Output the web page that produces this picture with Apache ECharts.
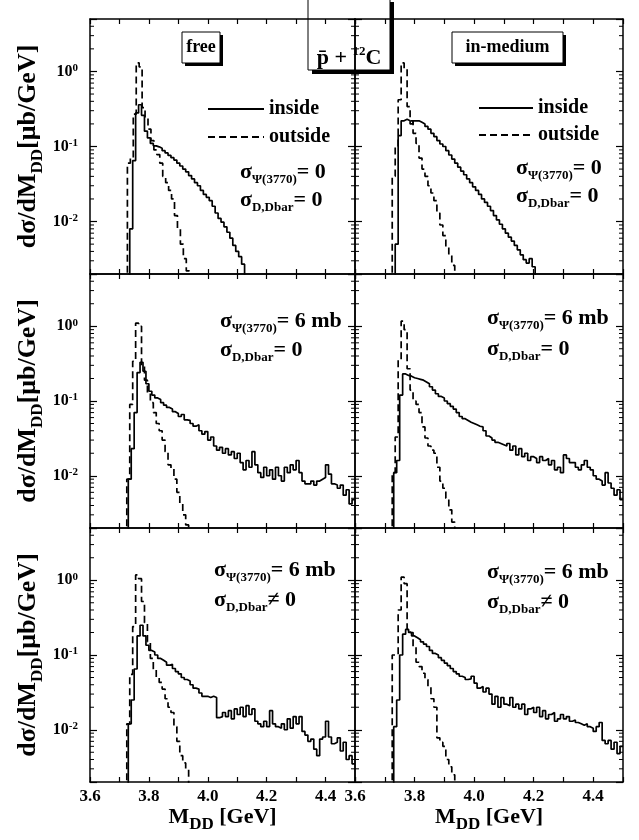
<!DOCTYPE html>
<html><head><meta charset="utf-8">
<script src="https://cdn.jsdelivr.net/npm/echarts@6/dist/echarts.min.js"></script>
<style>html,body{margin:0;padding:0;background:#fff}#c{width:639px;height:840px}</style>
</head><body><div id="c"></div>
<script>
// ---- data: histogram bin contents (bin width 0.01 GeV) ----
const binWidth = 0.01;
const xTickLabels = ['3.6', '3.8', '4.0', '4.2', '4.4'];
const yTickLabels = ['10^0', '10^-1', '10^-2'];

// free, sigma_psi = 0, sigma_DD = 0
const freeA_insideStart = 3.735;
const freeA_inside = [0.008,0.065,0.28,0.36,0.26,0.16,0.13,0.11,0.102,0.099,0.095,0.088,0.082,0.076,0.071,0.066,0.06,0.055,0.05,0.046,0.041,0.037,0.033,0.03,0.026,0.023,0.021,0.019,0.016,0.013,0.011,0.0098,0.0085,0.0072,0.006,0.0048,0.004,0.0034,0.0027];
const freeA_outsideStart = 3.727;
const freeA_outside = [0.06,0.07,0.27,1.3,1.15,0.33,0.25,0.17,0.12,0.09,0.078,0.06,0.04,0.033,0.026,0.02,0.012,0.008,0.005,0.0032,0.0022];

// in-medium, sigma_psi = 0, sigma_DD = 0
const medA_insideStart = 3.735;
const medA_inside = [0.005,0.14,0.22,0.23,0.22,0.2,0.22,0.22,0.21,0.2,0.185,0.17,0.15,0.135,0.12,0.108,0.1,0.088,0.077,0.068,0.06,0.053,0.047,0.042,0.037,0.033,0.029,0.026,0.023,0.02,0.018,0.016,0.014,0.012,0.0105,0.0092,0.008,0.007,0.0062,0.0055,0.0048,0.0042,0.0036,0.0031,0.0028,0.0032,0.0025];
const medA_outsideStart = 3.725;
const medA_outside = [0.04,0.1,0.42,1.3,1.1,0.34,0.22,0.15,0.11,0.07,0.05,0.04,0.03,0.024,0.019,0.013,0.009,0.0065,0.0045,0.0035,0.0026];

// free, sigma_psi = 6 mb, sigma_DD = 0
const freeB_insideStart = 3.73;
const freeB_inside = [0.009,0.023,0.07,0.24,0.33,0.25,0.17,0.135,0.12,0.11,0.105,0.095,0.088,0.082,0.078,0.072,0.068,0.062,0.066,0.056,0.055,0.05,0.046,0.048,0.04,0.036,0.039,0.03,0.033,0.025,0.022,0.024,0.02,0.023,0.019,0.021,0.017,0.02,0.015,0.012,0.016,0.013,0.021,0.014,0.011,0.0095,0.013,0.01,0.012,0.009,0.013,0.01,0.0085,0.013,0.011,0.014,0.012,0.016,0.011,0.0085,0.0078,0.0078,0.0085,0.0075,0.0085,0.009,0.0095,0.014,0.0105,0.0078,0.0075,0.0068,0.0075,0.0055,0.0065,0.0042,0.0048];
const freeB_outsideStart = 3.725;
const freeB_outside = [0.009,0.09,0.34,1.1,1.0,0.3,0.19,0.13,0.095,0.07,0.05,0.04,0.03,0.021,0.014,0.0125,0.009,0.006,0.0042,0.003,0.0022];

// in-medium, sigma_psi = 6 mb, sigma_DD = 0
const medB_insideStart = 3.73;
const medB_inside = [0.011,0.016,0.12,0.23,0.22,0.215,0.205,0.2,0.195,0.19,0.18,0.17,0.155,0.14,0.125,0.115,0.11,0.1,0.092,0.085,0.078,0.07,0.062,0.058,0.055,0.052,0.05,0.048,0.046,0.045,0.04,0.034,0.032,0.03,0.028,0.027,0.026,0.025,0.027,0.022,0.025,0.019,0.023,0.018,0.02,0.016,0.018,0.017,0.015,0.018,0.016,0.017,0.014,0.016,0.012,0.013,0.011,0.019,0.017,0.015,0.015,0.013,0.012,0.014,0.016,0.013,0.012,0.01,0.009,0.0085,0.0075,0.011,0.008,0.0068,0.0055,0.0065,0.0048];
const medB_outsideStart = 3.725;
const medB_outside = [0.011,0.033,0.36,1.17,0.9,0.27,0.14,0.1,0.09,0.07,0.045,0.032,0.025,0.022,0.02,0.013,0.0085,0.0068,0.005,0.0035,0.0024];

// free, sigma_psi = 6 mb, sigma_DD != 0
const freeC_insideStart = 3.73;
const freeC_inside = [0.012,0.025,0.065,0.18,0.25,0.18,0.135,0.115,0.11,0.1,0.09,0.085,0.08,0.073,0.075,0.066,0.06,0.056,0.05,0.047,0.045,0.04,0.036,0.035,0.031,0.028,0.028,0.027,0.028,0.027,0.0145,0.015,0.017,0.015,0.018,0.014,0.019,0.016,0.02,0.015,0.021,0.016,0.019,0.013,0.012,0.011,0.013,0.011,0.018,0.012,0.011,0.0105,0.012,0.01,0.014,0.0105,0.015,0.012,0.015,0.0095,0.0085,0.007,0.0075,0.0055,0.0045,0.0075,0.008,0.013,0.008,0.0065,0.0068,0.0078,0.0052,0.0068,0.004,0.0045,0.0035];
const freeC_outsideStart = 3.725;
const freeC_outside = [0.012,0.055,0.24,1.18,1.05,0.52,0.27,0.15,0.09,0.065,0.05,0.043,0.035,0.026,0.02,0.017,0.011,0.007,0.0045,0.0036,0.003];

// in-medium, sigma_psi = 6 mb, sigma_DD != 0
const medC_insideStart = 3.73;
const medC_inside = [0.011,0.025,0.1,0.19,0.22,0.2,0.18,0.17,0.16,0.15,0.14,0.13,0.115,0.105,0.1,0.092,0.085,0.078,0.072,0.066,0.06,0.056,0.052,0.05,0.047,0.048,0.052,0.042,0.036,0.038,0.032,0.036,0.03,0.022,0.028,0.02,0.027,0.022,0.021,0.027,0.02,0.022,0.019,0.022,0.016,0.019,0.02,0.017,0.02,0.015,0.018,0.014,0.016,0.017,0.013,0.014,0.016,0.014,0.015,0.013,0.0135,0.0125,0.012,0.0115,0.012,0.011,0.0105,0.0095,0.011,0.0125,0.0072,0.0065,0.0072,0.0055,0.0068,0.0048,0.006];
const medC_outsideStart = 3.725;
const medC_outside = [0.1,0.1,0.4,1.1,0.9,0.22,0.2,0.13,0.08,0.07,0.057,0.047,0.038,0.026,0.02,0.0078,0.0068,0.006,0.004,0.0032,0.0025];

// ---- chart construction ----
const xMin = 3.6, xMax = 4.5, yMin = 0.002, yMax = 5;
const SERIF = '"Liberation Serif","Times New Roman",serif';

function hist(start, vals) {
  const pts = [[start, 1e-4]];
  vals.forEach((v, i) => pts.push([+(start + i * binWidth).toFixed(4), v]));
  const end = +(start + vals.length * binWidth).toFixed(4);
  if (end < xMax - 1e-9) pts.push([end, 1e-4]);
  else pts.push([xMax, vals[vals.length - 1]]);
  return pts;
}

const panels = [
  {grid: {left: 90, top: 19, width: 265, height: 255}, ins: [freeA_insideStart, freeA_inside], out: [freeA_outsideStart, freeA_outside]},
  {grid: {left: 355, top: 19, width: 268, height: 255}, ins: [medA_insideStart, medA_inside], out: [medA_outsideStart, medA_outside]},
  {grid: {left: 90, top: 274, width: 265, height: 254}, ins: [freeB_insideStart, freeB_inside], out: [freeB_outsideStart, freeB_outside]},
  {grid: {left: 355, top: 274, width: 268, height: 254}, ins: [medB_insideStart, medB_inside], out: [medB_outsideStart, medB_outside]},
  {grid: {left: 90, top: 528, width: 265, height: 254}, ins: [freeC_insideStart, freeC_inside], out: [freeC_outsideStart, freeC_outside]},
  {grid: {left: 355, top: 528, width: 268, height: 254}, ins: [medC_insideStart, medC_inside], out: [medC_outsideStart, medC_outside]}
];

// minor tick values for the log axis (2..9 per decade)
const minorTickValues = [];
for (let e = -3; e <= 0; e++) for (let m = 2; m <= 9; m++) {
  const v = m * Math.pow(10, e);
  if (v > yMin * 1.0001 && v < yMax * 0.9999) minorTickValues.push([xMin, v]);
}

const axisLine = {show: true, lineStyle: {color: '#000', width: 1.5}};
const grid = [], xAxis = [], yAxis = [], series = [];

panels.forEach((p, i) => {
  grid.push(p.grid);
  const isBottom = i >= 4, isLeft = i % 2 === 0;
  const xBase = {
    type: 'value', gridIndex: i, min: xMin, max: xMax, interval: 0.1,
    axisLine: axisLine, splitLine: {show: false},
    axisTick: {show: true, inside: true, length: 5, lineStyle: {color: '#000', width: 1.2}}
  };
  xAxis.push(Object.assign({}, xBase, {
    position: 'bottom',
    axisLabel: {
      show: isBottom, margin: 6, color: '#000', fontFamily: SERIF, fontWeight: 'bold', fontSize: 17,
      formatter: v => { const s = v.toFixed(1); return xTickLabels.indexOf(s) >= 0 ? s : ''; }
    },
    name: isBottom ? '{a|M}{s|DD}{a| [GeV]}' : '', nameLocation: 'middle', nameGap: 10,
    nameTextStyle: {
      color: '#000', verticalAlign: 'top',
      rich: {
        a: {fontFamily: SERIF, fontWeight: 'bold', fontSize: 22, color: '#000', lineHeight: 22, verticalAlign: 'top'},
        s: {fontFamily: SERIF, fontWeight: 'bold', fontSize: 17, color: '#000', lineHeight: 27, verticalAlign: 'bottom'}
      }
    }
  }));
  xAxis.push(Object.assign({}, xBase, {position: 'top', axisLabel: {show: false}}));
  const yBase = {
    type: 'log', logBase: 10, gridIndex: i, min: yMin, max: yMax,
    axisLine: axisLine, splitLine: {show: false}, minorTick: {show: false},
    axisTick: {show: true, inside: true, length: 7, lineStyle: {color: '#000', width: 1.2}}
  };
  yAxis.push(Object.assign({}, yBase, {
    position: 'left',
    axisLabel: {
      show: isLeft, margin: 12, color: '#000',
      formatter: v => {
        const e = Math.round(Math.log10(v));
        if (Math.abs(Math.log10(v) - e) > 1e-6) return '';
        const lab = '10^' + e;
        if (yTickLabels.indexOf(lab) < 0) return '';
        return '{b|10}{s|' + e + '}';
      },
      rich: {
        b: {fontFamily: SERIF, fontWeight: 'bold', fontSize: 16, color: '#000', lineHeight: 18},
        s: {fontFamily: SERIF, fontWeight: 'bold', fontSize: 11, color: '#000', lineHeight: 10, verticalAlign: 'top'}
      }
    },
    name: isLeft ? '{a|d\u03c3/dM}{s|DD}{a|[\u03bcb/GeV]}' : '', nameLocation: 'middle', nameGap: 44, nameRotate: 90,
    nameTextStyle: {
      color: '#000',
      rich: {
        a: {fontFamily: SERIF, fontWeight: 'bold', fontSize: 26, color: '#000', lineHeight: 26, verticalAlign: 'top'},
        s: {fontFamily: SERIF, fontWeight: 'bold', fontSize: 17, color: '#000', lineHeight: 31, verticalAlign: 'bottom'}
      }
    }
  }));
  yAxis.push(Object.assign({}, yBase, {position: 'right', axisLabel: {show: false}}));

  series.push({
    name: 'inside', type: 'line', xAxisIndex: 2 * i, yAxisIndex: 2 * i, step: 'end',
    symbol: 'none', showSymbol: false, silent: true, animation: false,
    lineStyle: {color: '#000', width: 1.7, type: 'solid'}, itemStyle: {color: '#000'},
    data: hist(p.ins[0], p.ins[1])
  });
  series.push({
    name: 'outside', type: 'line', xAxisIndex: 2 * i, yAxisIndex: 2 * i, step: 'end',
    symbol: 'none', showSymbol: false, silent: true, animation: false,
    lineStyle: {color: '#000', width: 1.7, type: [7, 4]}, itemStyle: {color: '#000'},
    data: hist(p.out[0], p.out[1])
  });
  series.push({
    type: 'custom', xAxisIndex: 2 * i, yAxisIndex: 2 * i, silent: true, animation: false,
    data: minorTickValues,
    renderItem: (params, api) => {
      const v = api.value(1);
      const a = api.coord([xMin, v]), b = api.coord([xMax, v]);
      const st = {stroke: '#000', lineWidth: 1};
      return {type: 'group', children: [
        {type: 'line', shape: {x1: a[0], y1: a[1], x2: a[0] + 4, y2: a[1]}, style: st},
        {type: 'line', shape: {x1: b[0] - 4, y1: b[1], x2: b[0], y2: b[1]}, style: st}
      ]};
    }
  });
});

const legendText = {color: '#000', fontFamily: SERIF, fontWeight: 'bold', fontSize: 20};
const legend = [
  {data: ['inside', 'outside'], left: 207, top: 99, orient: 'vertical', itemWidth: 56, itemHeight: 14, itemGap: 8, padding: 0, selectedMode: false, textStyle: legendText, itemStyle: {opacity: 0}},
  {data: ['inside', 'outside'], left: 478, top: 98, orient: 'vertical', itemWidth: 54, itemHeight: 14, itemGap: 7, padding: 0, selectedMode: false, textStyle: legendText, itemStyle: {opacity: 0}}
];

const sigRich = {
  m: {fontFamily: SERIF, fontWeight: 'bold', fontSize: 22, fill: '#000', lineHeight: 22, verticalAlign: 'top'},
  s: {fontFamily: SERIF, fontWeight: 'bold', fontSize: 13, fill: '#000', lineHeight: 25, verticalAlign: 'bottom'}
};
function sigText(x, y, sub, rhs) {
  return {type: 'text', silent: true, style: {x: x, y: y, text: '{m|\u03c3}{s|' + sub + '}{m|' + rhs + '}', rich: sigRich, verticalAlign: 'middle', align: 'left'}};
}
function boxedLabel(x, y, w, h, text, font, sh) {
  return [
    {type: 'rect', silent: true, shape: {x: x + sh, y: y + sh, width: w, height: h}, style: {fill: '#000'}},
    {type: 'rect', silent: true, shape: {x: x, y: y, width: w, height: h}, style: {fill: '#fff', stroke: '#000', lineWidth: 1}},
    {type: 'text', silent: true, style: {x: x + w / 2, y: y + h / 2, text: text, font: font, fill: '#000', align: 'center', verticalAlign: 'middle'}}
  ];
}

const graphic = [].concat(
  boxedLabel(182, 32, 38, 31, 'free', 'bold 18px ' + SERIF, 3),
  boxedLabel(452, 32, 111, 31, 'in-medium', 'bold 18px ' + SERIF, 3),
  [
    {type: 'rect', silent: true, shape: {x: 312, y: 2, width: 82, height: 72}, style: {fill: '#000'}},
    {type: 'rect', silent: true, shape: {x: 308, y: -2, width: 82, height: 72}, style: {fill: '#fff', stroke: '#000', lineWidth: 1}},
    {type: 'text', silent: true, style: {x: 349, y: 57, text: '{m|p\u0304 + }{s|12}{m|C}', align: 'center', verticalAlign: 'middle',
      rich: {
        m: {fontFamily: SERIF, fontWeight: 'bold', fontSize: 22, fill: '#000', lineHeight: 24, verticalAlign: 'bottom'},
        s: {fontFamily: SERIF, fontWeight: 'bold', fontSize: 13, fill: '#000', lineHeight: 14, verticalAlign: 'top'}
      }}}
  ],
  [
    sigText(240, 174, '\u03a8(3770)', '= 0'),
    sigText(240, 202, 'D,Dbar', '= 0'),
    sigText(516, 170, '\u03a8(3770)', '= 0'),
    sigText(516, 198, 'D,Dbar', '= 0'),
    sigText(220, 323, '\u03a8(3770)', '= 6 mb'),
    sigText(220, 352, 'D,Dbar', '= 0'),
    sigText(487, 320, '\u03a8(3770)', '= 6 mb'),
    sigText(487, 351, 'D,Dbar', '= 0'),
    sigText(214, 572, '\u03a8(3770)', '= 6 mb'),
    sigText(214, 602, 'D,Dbar', '\u2260 0'),
    sigText(487, 574, '\u03a8(3770)', '= 6 mb'),
    sigText(487, 604, 'D,Dbar', '\u2260 0')
  ]
);

const chart = echarts.init(document.getElementById('c'), null, {renderer: 'canvas'});
chart.setOption({
  animation: false, backgroundColor: '#fff',
  grid: grid, xAxis: xAxis, yAxis: yAxis, series: series, legend: legend, graphic: graphic
});
</script></body></html>
